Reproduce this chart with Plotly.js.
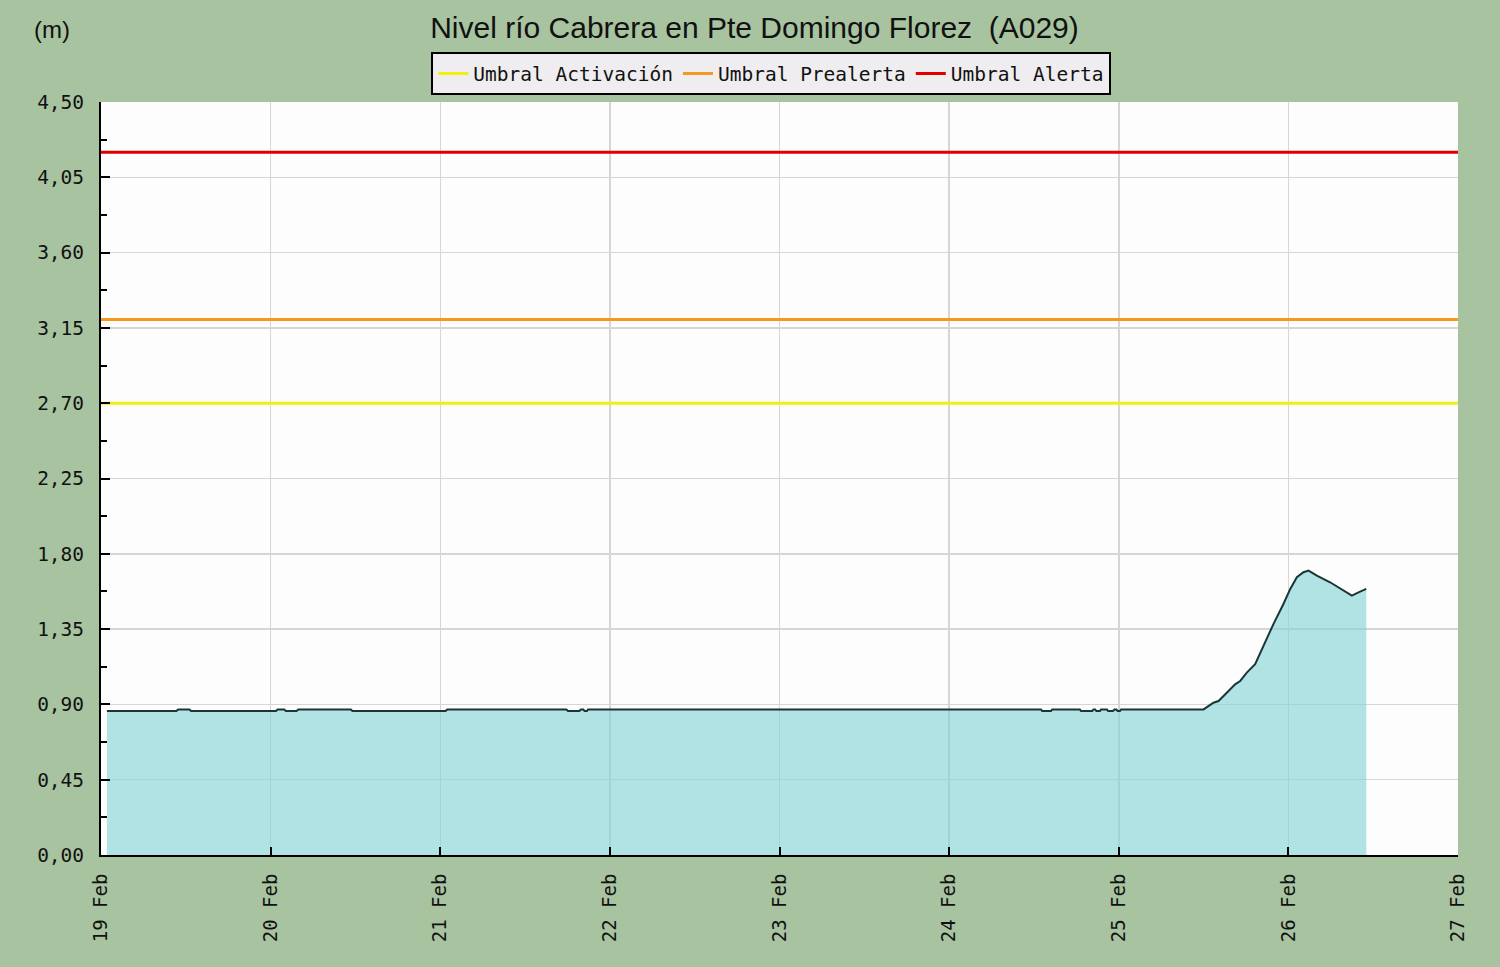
<!DOCTYPE html>
<html>
<head>
<meta charset="utf-8">
<script src="https://cdn.plot.ly/plotly-3.0.1.min.js"></script>
<style>html,body{margin:0;padding:0;background:#a8c3a0;}#chart{width:1500px;height:967px;}</style>
</head>
<body>
<div id="chart"></div>
<script>
// River level series (m)
const times = [
  "2024-02-19 00:50","2024-02-19 10:40","2024-02-19 10:55","2024-02-19 12:30","2024-02-19 12:45",
  "2024-02-20 00:45","2024-02-20 01:00","2024-02-20 01:55","2024-02-20 02:10","2024-02-20 03:40",
  "2024-02-20 03:55","2024-02-20 11:20","2024-02-20 11:35","2024-02-21 00:45","2024-02-21 01:00",
  "2024-02-21 17:50","2024-02-21 18:05","2024-02-21 19:40","2024-02-21 19:55","2024-02-21 20:15",
  "2024-02-21 20:25","2024-02-21 20:45","2024-02-21 20:55","2024-02-24 13:00","2024-02-24 13:10",
  "2024-02-24 14:25","2024-02-24 14:35","2024-02-24 18:30","2024-02-24 18:40","2024-02-24 20:15",
  "2024-02-24 20:25","2024-02-24 20:40","2024-02-24 20:50","2024-02-24 21:20","2024-02-24 21:30",
  "2024-02-24 22:20","2024-02-24 22:30","2024-02-24 23:10","2024-02-24 23:25","2024-02-24 23:40",
  "2024-02-24 23:50","2024-02-25 00:10","2024-02-25 00:20","2024-02-25 12:00",
  "2024-02-25 13:24","2024-02-25 14:07","2024-02-25 15:17","2024-02-25 16:28","2024-02-25 17:11",
  "2024-02-25 18:07","2024-02-25 19:18","2024-02-25 20:28","2024-02-25 21:53","2024-02-25 23:18",
  "2024-02-26 00:16","2024-02-26 01:12","2024-02-26 02:08","2024-02-26 02:51","2024-02-26 04:02",
  "2024-02-26 05:54","2024-02-26 07:48","2024-02-26 08:59","2024-02-26 09:55","2024-02-26 11:01"
];
const levels = [
  0.86,0.86,0.87,0.87,0.86,
  0.86,0.87,0.87,0.86,0.86,
  0.87,0.87,0.86,0.86,0.87,
  0.87,0.86,0.86,0.87,0.87,
  0.86,0.86,0.87,0.87,0.86,
  0.86,0.87,0.87,0.86,0.86,
  0.87,0.87,0.86,0.86,0.87,
  0.87,0.86,0.86,0.87,0.87,
  0.86,0.86,0.87,0.87,
  0.91,0.92,0.97,1.02,1.04,
  1.09,1.14,1.25,1.38,1.50,
  1.59,1.66,1.69,1.70,1.67,
  1.63,1.58,1.55,1.57,1.59
];
// Thresholds
const thresholdNames = ["Umbral Activación","Umbral Prealerta","Umbral Alerta"];
const thresholdValues = [2.70, 3.20, 4.20];
const thresholdColors = ["#f2ee10","#f39a1c","#e00000"];
const rangeStart = "2024-02-19 00:00";
const rangeEnd = "2024-02-27 00:00";
const yTicks = [0,0.45,0.90,1.35,1.80,2.25,2.70,3.15,3.60,4.05,4.50];

const traces = [{
  x: times, y: levels, type: "scatter", mode: "lines",
  fill: "tozeroy", fillcolor: "rgba(128,210,212,0.6)",
  line: {color: "#1b3535", width: 2}, showlegend: false, hoverinfo: "x+y"
}];
thresholdNames.forEach((n, i) => {
  traces.push({
    x: [rangeStart, rangeEnd], y: [thresholdValues[i], thresholdValues[i]],
    type: "scatter", mode: "lines", name: n,
    line: {color: thresholdColors[i], width: 3}
  });
});

const mono = "DejaVu Sans Mono, Liberation Mono, monospace";
const layout = {
  width: 1500, height: 967,
  paper_bgcolor: "#a8c3a0", plot_bgcolor: "#fdfdfd",
  separators: ",.",
  margin: {l: 101, r: 42, t: 102, b: 112},
  title: {text: "Nivel río Cabrera en Pte Domingo Florez  (A029)",
    font: {family: "Liberation Sans, Arial, sans-serif", size: 30, color: "#111"},
    x: 0.503, xref: "container", xanchor: "center", y: 0.972, yref: "container", yanchor: "middle"},
  showlegend: true,
  legend: {orientation: "h", x: 0.494, xanchor: "center", y: 1.066, yanchor: "top",
    bgcolor: "#efedef", bordercolor: "#000", borderwidth: 2,
    font: {family: mono, size: 19.5, color: "#111"}},
  xaxis: {type: "date", range: [rangeStart, rangeEnd], dtick: 86400000, tick0: rangeStart,
    tickformat: "%d %b", tickangle: -90, ticklabelstandoff: 9,
    tickfont: {family: mono, size: 19, color: "#111"},
    showgrid: true, gridcolor: "#d6d6d6", gridwidth: 1.5,
    ticks: "inside", ticklen: 8, tickwidth: 2, tickcolor: "#000",
    showline: true, linecolor: "#000", linewidth: 2, zeroline: false, fixedrange: true},
  yaxis: {range: [0, 4.5], tickvals: yTicks, tickformat: ".2f", ticklabelstandoff: 11,
    tickfont: {family: mono, size: 19.5, color: "#111"},
    showgrid: true, gridcolor: "#d6d6d6", gridwidth: 1.5,
    ticks: "inside", ticklen: 9, tickwidth: 2, tickcolor: "#000",
    minor: {dtick: 0.225, tick0: 0, ticks: "inside", ticklen: 6, tickwidth: 2, tickcolor: "#000", showgrid: false},
    showline: true, linecolor: "#000", linewidth: 2, zeroline: false, fixedrange: true},
  annotations: [{text: "(m)", xref: "paper", yref: "paper", x: -0.036, y: 1.096,
    xanchor: "center", yanchor: "middle", showarrow: false,
    font: {family: "Liberation Sans, Arial, sans-serif", size: 24, color: "#111"}}]
};
Plotly.newPlot("chart", traces, layout, {displayModeBar: false, staticPlot: true});
</script>
</body>
</html>
